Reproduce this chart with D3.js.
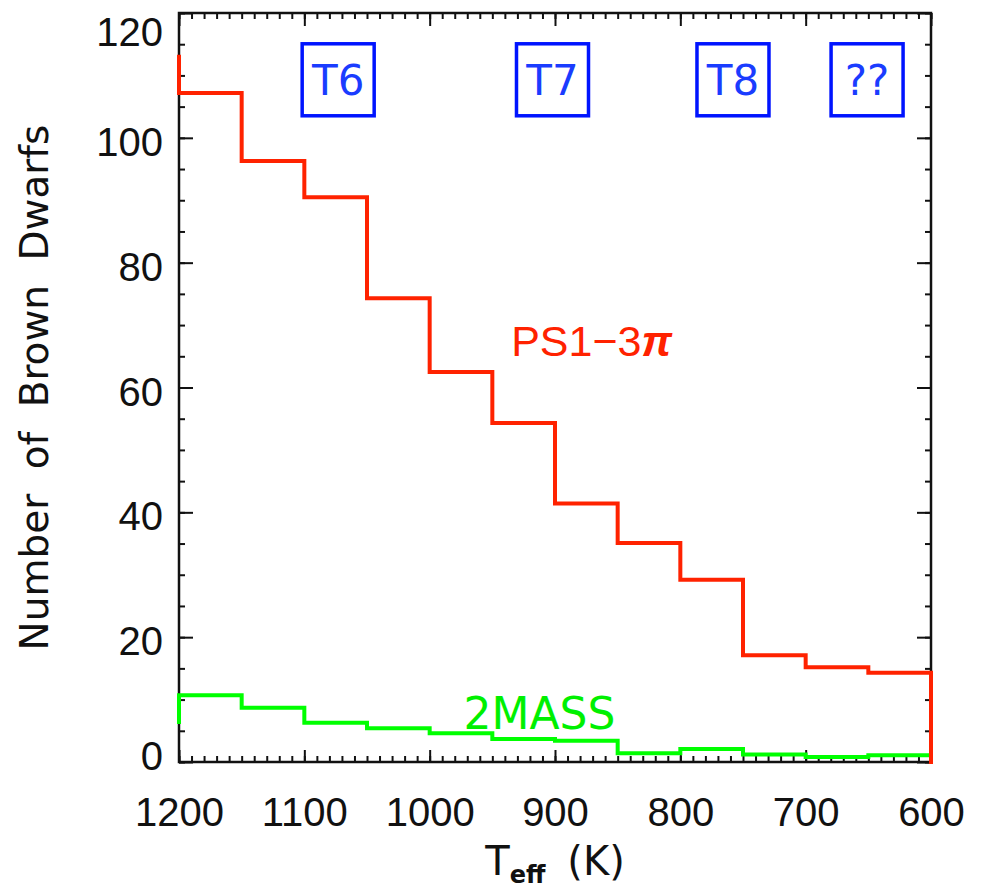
<!DOCTYPE html>
<html>
<head>
<meta charset="utf-8">
<script src="https://cdn.jsdelivr.net/npm/d3@7"></script>
<style>
  body { margin: 0; background: #fff; }
  svg { font-family: "DejaVu Sans", sans-serif; }
  .axis line { stroke: #111; stroke-width: 2; }
  .axis text { fill: #111; font-size: 40px; }
</style>
</head>
<body>
<script>
const width = 984;
const height = 893;
const padding = {left: 179, right: 53, top: 13, bottom: 131};

// 50 K bins (centres), one clipped bin on each side of the axis range
const binCenters = [1225, 1175, 1125, 1075, 1025, 975, 925, 875, 825, 775, 725, 675, 625, 575];
const ps1Counts = [113, 107.2, 96.3, 90.5, 74.3, 62.5, 54.3, 41.4, 35.1, 29.2, 17.1, 15.2, 14.3, 0];
const twoMassCounts = [6.4, 10.7, 8.7, 6.3, 5.4, 4.6, 3.7, 3.4, 1.4, 2.1, 1.2, 0.8, 1.1, 0];

const xTicks = [1200, 1100, 1000, 900, 800, 700, 600];
const yTicks = [0, 20, 40, 60, 80, 100, 120];

const spTypes = ["T6", "T7", "T8", "??"];
const spTypeTeff = [1073, 902, 758, 651];

const svg = d3.select("body")
  .append("svg")
  .attr("width", width)
  .attr("height", height);

const xScale = d3.scaleLinear()
  .domain([1200, 600])
  .range([padding.left, width - padding.right]);

const yScale = d3.scaleLinear()
  .domain([0, 120])
  .range([height - padding.bottom, padding.top]);

const x0 = xScale.range()[0], x1 = xScale.range()[1];
const y0 = yScale.range()[0], y1 = yScale.range()[1];

// minor ticks
const xMinor = d3.range(600, 1201, 10);
const yMinor = d3.range(0, 121, 5);

svg.append("g").attr("class", "axis")
  .attr("transform", "translate(0," + y0 + ")")
  .call(d3.axisBottom(xScale).tickValues(xMinor).tickSize(-6).tickFormat(""));
svg.append("g").attr("class", "axis")
  .attr("transform", "translate(0," + y1 + ")")
  .call(d3.axisTop(xScale).tickValues(xMinor).tickSize(-6).tickFormat(""));
svg.append("g").attr("class", "axis")
  .attr("transform", "translate(" + x0 + ",0)")
  .call(d3.axisLeft(yScale).tickValues(yMinor).tickSize(-6).tickFormat(""));
svg.append("g").attr("class", "axis")
  .attr("transform", "translate(" + x1 + ",0)")
  .call(d3.axisRight(yScale).tickValues(yMinor).tickSize(-6).tickFormat(""));

// major ticks
svg.append("g").attr("class", "axis")
  .attr("transform", "translate(0," + y0 + ")")
  .call(d3.axisBottom(xScale).tickValues(xTicks).tickSize(-12).tickPadding(36).tickFormat(d3.format("d")));
svg.append("g").attr("class", "axis")
  .attr("transform", "translate(0," + y1 + ")")
  .call(d3.axisTop(xScale).tickValues(xTicks).tickSize(-13).tickFormat(""));
const yAxisG = svg.append("g").attr("class", "axis")
  .attr("transform", "translate(" + x0 + ",0)")
  .call(d3.axisLeft(yScale).tickValues(yTicks).tickSize(-14).tickPadding(16).tickFormat(d3.format("d")));
svg.append("g").attr("class", "axis")
  .attr("transform", "translate(" + x1 + ",0)")
  .call(d3.axisRight(yScale).tickValues(yTicks).tickSize(-14).tickFormat(""));

svg.selectAll(".axis .domain").remove();

// labels at the ends are pulled inside the frame
yAxisG.selectAll("text").attr("dy", d => d === 120 ? "32px" : d === 0 ? "7px" : "0.44em");

// frame
svg.append("rect")
  .attr("x", x0).attr("y", y1)
  .attr("width", x1 - x0).attr("height", y0 - y1)
  .attr("fill", "none")
  .attr("stroke", "#111")
  .attr("stroke-width", 2.5);

// histograms
svg.append("clipPath").attr("id", "plotClip")
  .append("rect")
  .attr("x", x0 - 2).attr("y", y1)
  .attr("width", x1 - x0 + 4).attr("height", y0 - y1 + 2);

const line = d3.line()
  .x(d => xScale(d[0]))
  .y(d => yScale(d[1]))
  .curve(d3.curveStep);

svg.append("path")
  .datum(d3.zip(binCenters, twoMassCounts))
  .attr("clip-path", "url(#plotClip)")
  .attr("fill", "none")
  .attr("stroke", "#00ff00")
  .attr("stroke-width", 4)
  .attr("d", line);

svg.append("path")
  .datum(d3.zip(binCenters, ps1Counts))
  .attr("clip-path", "url(#plotClip)")
  .attr("fill", "none")
  .attr("stroke", "#ff2200")
  .attr("stroke-width", 4)
  .attr("d", line);

// series labels
const ps1Label = svg.append("text")
  .attr("x", xScale(935))
  .attr("y", yScale(65.1))
  .attr("fill", "#ff2200")
  .style("font-family", "'Liberation Sans', Arial, sans-serif")
  .style("font-size", "43px")
  .text("PS1\u22123");
ps1Label.append("tspan")
  .style("font-weight", "bold")
  .style("font-style", "italic")
  .text("\u03c0");

svg.append("text")
  .attr("x", xScale(973))
  .attr("y", yScale(5.3))
  .attr("fill", "#00f000")
  .style("font-size", "44px")
  .text("2MASS");

// spectral type boxes
const box = svg.selectAll(".sptype")
  .data(d3.zip(spTypes, spTypeTeff))
  .enter().append("g")
  .attr("class", "sptype")
  .attr("transform", d => "translate(" + xScale(d[1]) + "," + yScale(109.3) + ")");

box.append("rect")
  .attr("x", -36).attr("y", -36)
  .attr("width", 72).attr("height", 72)
  .attr("fill", "none")
  .attr("stroke", "#0014ff")
  .attr("stroke-width", 3.5);

box.append("text")
  .attr("text-anchor", "middle")
  .attr("dy", "0.36em")
  .attr("fill", "#1a3cff")
  .style("font-size", "42px")
  .text(d => d[0]);

// axis titles
const xTitle = svg.append("text")
  .attr("x", (x0 + x1) / 2)
  .attr("y", 875)
  .attr("text-anchor", "middle")
  .attr("fill", "#111")
  .style("font-size", "40px")
  .text("T");
xTitle.append("tspan")
  .attr("dy", 8)
  .style("font-size", "24px")
  .style("font-weight", "bold")
  .text("eff");
xTitle.append("tspan")
  .attr("dy", -8)
  .attr("dx", 22)
  .text("(K)");

svg.append("text")
  .attr("transform", "translate(48," + ((y0 + y1) / 2) + ") rotate(-90)")
  .attr("text-anchor", "middle")
  .attr("fill", "#111")
  .style("font-size", "39px")
  .style("word-spacing", "12px")
  .text("Number of Brown Dwarfs");
</script>
</body>
</html>
